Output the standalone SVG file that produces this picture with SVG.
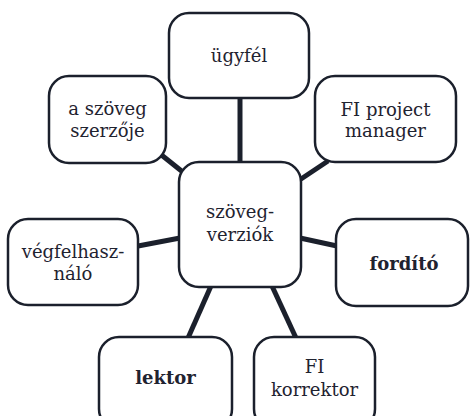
<svg xmlns="http://www.w3.org/2000/svg" width="470" height="416" viewBox="0 0 470 416">
  <style>
    .box { fill: #ffffff; stroke: #1b202c; stroke-width: 2.5; }
    .link { stroke: #1b202c; stroke-width: 5; stroke-linecap: butt; fill: none; }
    text { font-family: "DejaVu Serif", "Liberation Serif", serif; font-size: 18px; fill: #1f2330; text-anchor: middle; }
    .b { font-weight: bold; }
  </style>
  <rect width="470" height="416" fill="#ffffff"/>

  <!-- spokes from the central node -->
  <g id="connectors">
    <line class="link" x1="240" y1="98" x2="240" y2="163"/>
    <line class="link" x1="159" y1="153" x2="184" y2="173"/>
    <line class="link" x1="328" y1="161" x2="298" y2="181"/>
    <line class="link" x1="138" y1="246" x2="180" y2="238"/>
    <line class="link" x1="300" y1="238" x2="337" y2="246"/>
    <line class="link" x1="211" y1="286" x2="188" y2="338"/>
    <line class="link" x1="272" y1="286" x2="296" y2="338"/>
  </g>

  <g id="center">
    <rect class="box" x="179" y="162" width="122" height="125" rx="20"/>
    <text x="240" y="218">szöveg-</text>
    <text x="240" y="241">verziók</text>
  </g>

  <g id="ugyfel">
    <rect class="box" x="169" y="13" width="140" height="85" rx="20"/>
    <text x="239" y="62">ügyfél</text>
  </g>

  <g id="szerzo">
    <rect class="box" x="49" y="76" width="117" height="87" rx="20"/>
    <text x="107.5" y="115">a szöveg</text>
    <text x="107.5" y="137">szerzője</text>
  </g>

  <g id="project-manager">
    <rect class="box" x="315" y="76" width="141" height="86" rx="20"/>
    <text x="385.5" y="116">FI project</text>
    <text x="385.5" y="137">manager</text>
  </g>

  <g id="vegfelhasznalo">
    <rect class="box" x="8" y="219" width="130" height="86" rx="20"/>
    <text x="73" y="258">végfelhasz-</text>
    <text x="73" y="280">náló</text>
  </g>

  <g id="fordito">
    <rect class="box" x="336" y="219" width="132" height="87" rx="20"/>
    <text class="b" x="404" y="270">fordító</text>
  </g>

  <g id="lektor">
    <rect class="box" x="99" y="337" width="133" height="92" rx="20"/>
    <text class="b" x="165.5" y="384">lektor</text>
  </g>

  <g id="korrektor">
    <rect class="box" x="254" y="337" width="121" height="92" rx="20"/>
    <text x="314.5" y="373">FI</text>
    <text x="314.5" y="396">korrektor</text>
  </g>
</svg>
